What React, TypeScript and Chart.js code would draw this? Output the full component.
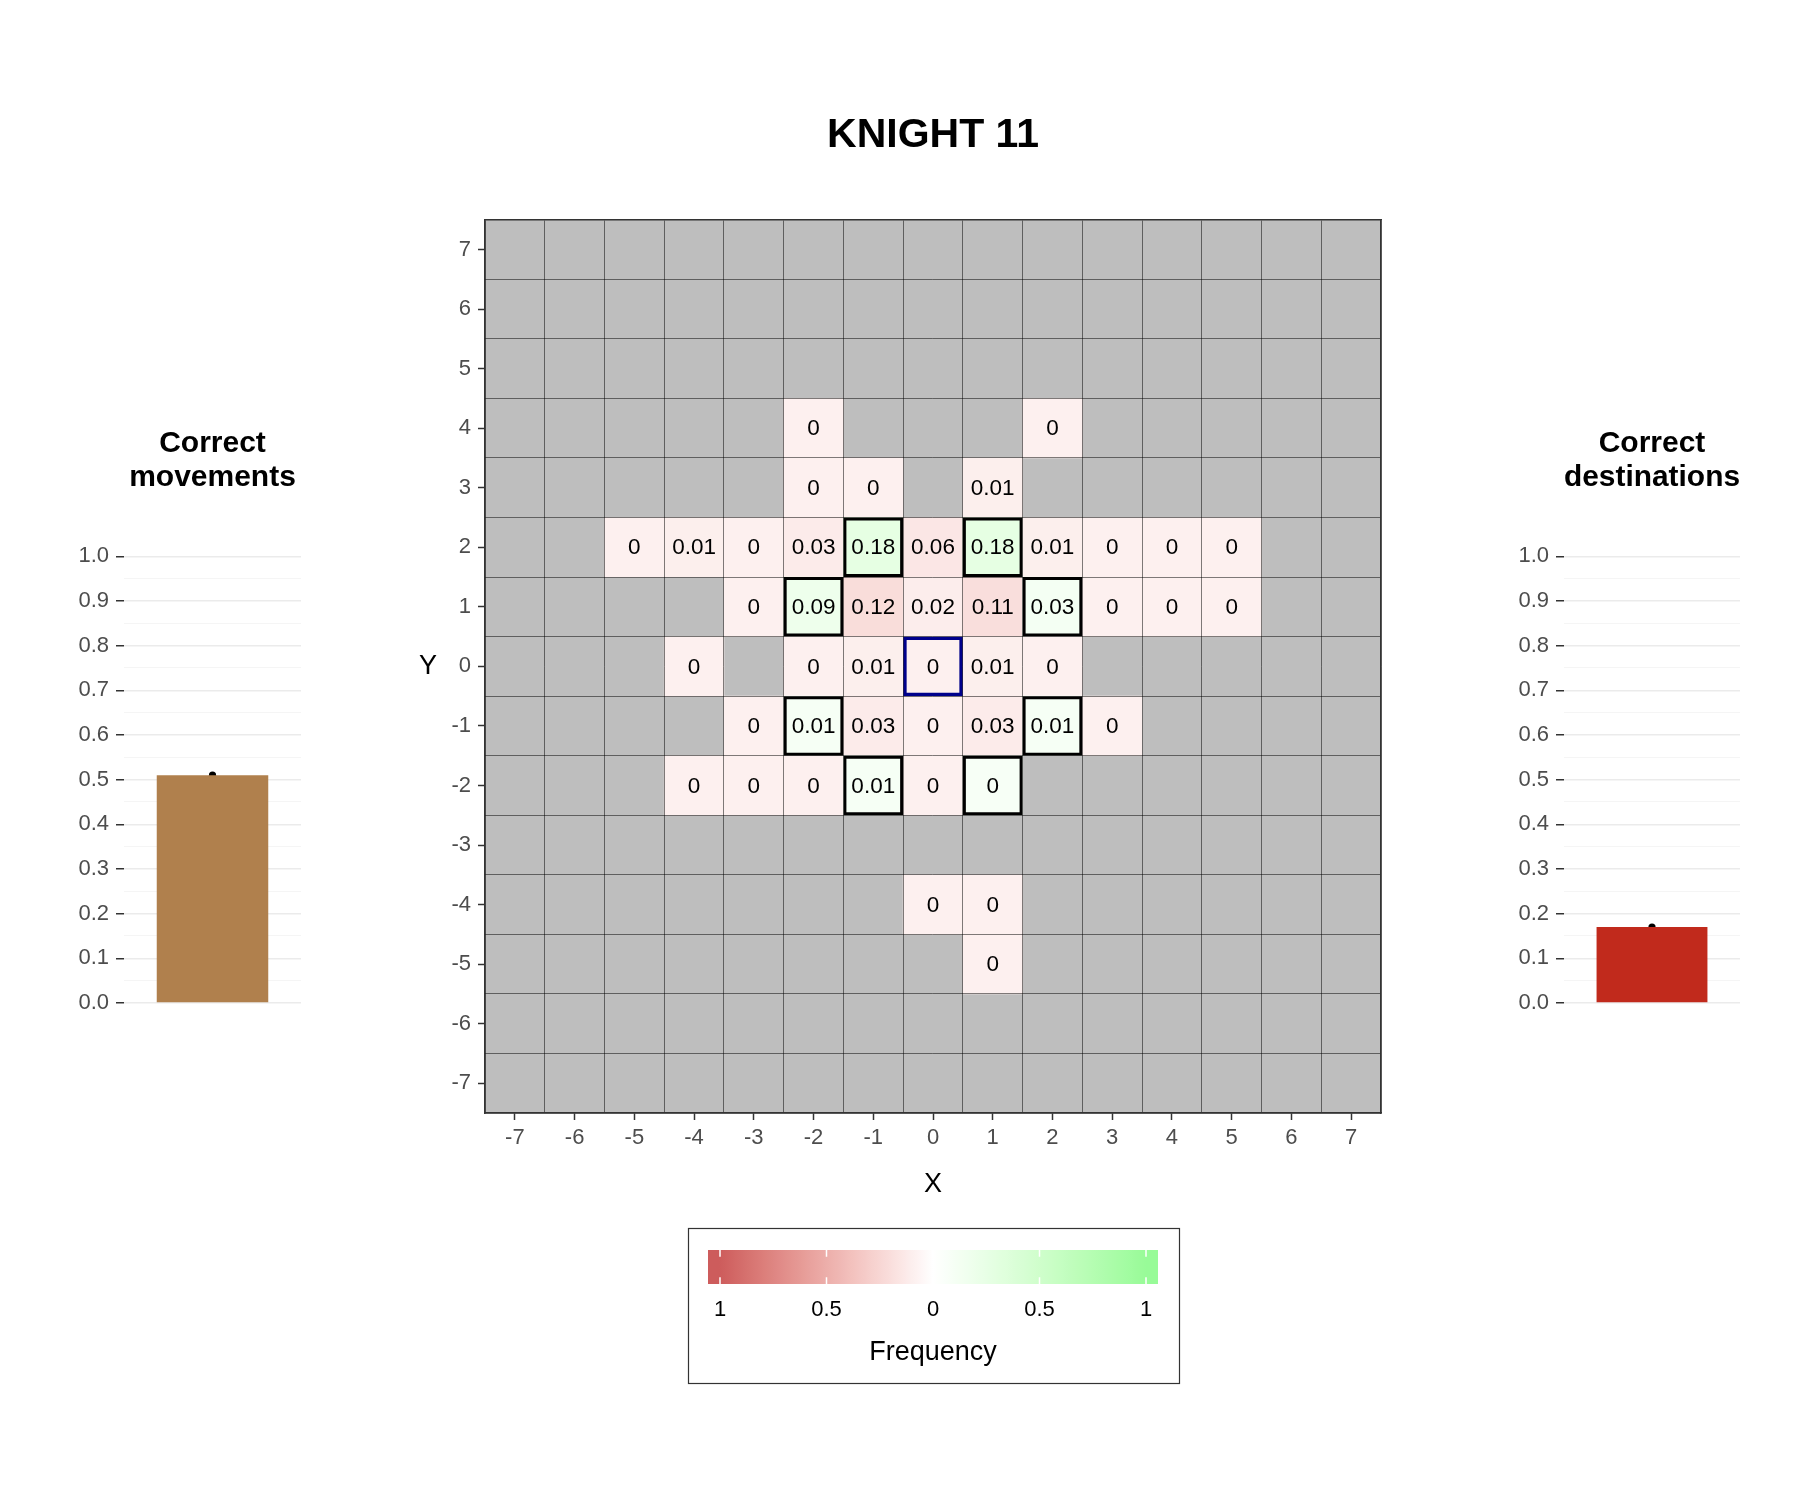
import React, { useEffect, useRef } from 'react';
import { Chart, registerables } from 'chart.js';

Chart.register(...registerables);

// ---------------- data ----------------
const axisTicks = [-7, -6, -5, -4, -3, -2, -1, 0, 1, 2, 3, 4, 5, 6, 7];

// observed tiles (x, y, frequency)
const cellX = [
  -2, 2,
  -2, -1, 1,
  -5, -4, -3, -2, -1, 0, 1, 2, 3, 4, 5,
  -3, -2, -1, 0, 1, 2, 3, 4, 5,
  -4, -2, -1, 0, 1, 2,
  -3, -2, -1, 0, 1, 2, 3,
  -4, -3, -2, -1, 0, 1,
  0, 1,
  1,
];
const cellY = [
  4, 4,
  3, 3, 3,
  2, 2, 2, 2, 2, 2, 2, 2, 2, 2, 2,
  1, 1, 1, 1, 1, 1, 1, 1, 1,
  0, 0, 0, 0, 0, 0,
  -1, -1, -1, -1, -1, -1, -1,
  -2, -2, -2, -2, -2, -2,
  -4, -4,
  -5,
];
const cellFreq = [
  0, 0,
  0, 0, 0.01,
  0, 0.01, 0, 0.03, 0.18, 0.06, 0.18, 0.01, 0, 0, 0,
  0, 0.09, 0.12, 0.02, 0.11, 0.03, 0, 0, 0,
  0, 0, 0.01, 0, 0.01, 0,
  0, 0.01, 0.03, 0, 0.03, 0.01, 0,
  0, 0, 0, 0.01, 0, 0,
  0, 0,
  0,
];

// legal knight moves and the start square
const correctX = [-1, 1, -2, 2, -2, 2, -1, 1];
const correctY = [2, 2, 1, 1, -1, -1, -2, -2];
const startX = [0];
const startY = [0];

// side summaries
const movementsValue = [0.51];
const destinationsValue = [0.17];
const shareTicks = [0, 0.1, 0.2, 0.3, 0.4, 0.5, 0.6, 0.7, 0.8, 0.9, 1.0];

// colour bar
const legendTicks = [-1, -0.5, 0, 0.5, 1];
const legendLabels = ['1', '0.5', '0', '0.5', '1'];

// ---------------- colours ----------------
type RGB = [number, number, number];
const WHITE: RGB = [255, 255, 255];
const WRONG_END: RGB = [205, 92, 92]; // indianred
const RIGHT_END: RGB = [152, 251, 152]; // palegreen
const fillFloor = 0.09; // every visited tile is tinted at least this much

const FONT = '"Liberation Sans", Arial, Helvetica, sans-serif';
Chart.defaults.font.family = FONT;

const toLinear = (c: number) => {
  const s = c / 255;
  return s <= 0.04045 ? s / 12.92 : Math.pow((s + 0.055) / 1.055, 2.4);
};
const toSrgb = (c: number) => {
  const s = c <= 0.0031308 ? 12.92 * c : 1.055 * Math.pow(Math.max(c, 0), 1 / 2.4) - 0.055;
  return Math.round(Math.min(1, Math.max(0, s)) * 255);
};
const labF = (t: number) => (t > 216 / 24389 ? Math.cbrt(t) : ((24389 / 27) * t + 16) / 116);
const labFinv = (f: number) => {
  const f3 = f * f * f;
  return f3 > 216 / 24389 ? f3 : (116 * f - 16) / (24389 / 27);
};
function rgbToLab([r, g, b]: RGB): number[] {
  const R = toLinear(r), G = toLinear(g), B = toLinear(b);
  const X = (0.4124564 * R + 0.3575761 * G + 0.1804375 * B) / 0.95047;
  const Y = 0.2126729 * R + 0.7151522 * G + 0.072175 * B;
  const Z = (0.0193339 * R + 0.119192 * G + 0.9503041 * B) / 1.08883;
  const fx = labF(X), fy = labF(Y), fz = labF(Z);
  return [116 * fy - 16, 500 * (fx - fy), 200 * (fy - fz)];
}
function labToRgb([L, a, b]: number[]): string {
  const fy = (L + 16) / 116, fx = fy + a / 500, fz = fy - b / 200;
  const X = labFinv(fx) * 0.95047, Y = labFinv(fy), Z = labFinv(fz) * 1.08883;
  const R = 3.2404542 * X - 1.5371385 * Y - 0.4985314 * Z;
  const G = -0.969266 * X + 1.8760108 * Y + 0.041556 * Z;
  const B = 0.0556434 * X - 0.2040259 * Y + 1.0572252 * Z;
  return `rgb(${toSrgb(R)}, ${toSrgb(G)}, ${toSrgb(B)})`;
}
function mixLab(a: RGB, b: RGB, t: number): string {
  const la = rgbToLab(a), lb = rgbToLab(b);
  return labToRgb(la.map((v, i) => v + (lb[i] - v) * t));
}

// ---------------- plugins ----------------
const tileText = {
  id: 'tileText',
  afterDatasetsDraw(chart: any) {
    const { ctx, scales } = chart;
    ctx.save();
    ctx.font = `22.5px ${FONT}`;
    ctx.fillStyle = '#000';
    ctx.textAlign = 'center';
    ctx.textBaseline = 'middle';
    cellX.forEach((cx, i) => {
      ctx.fillText(String(cellFreq[i]), scales.x.getPixelForValue(cx), scales.y.getPixelForValue(cellY[i]) + 1);
    });
    ctx.restore();
  },
};

const frequencyLegend = {
  id: 'frequencyLegend',
  afterDraw(chart: any) {
    const { ctx, chartArea: ca } = chart;
    const cx = (ca.left + ca.right) / 2;
    ctx.save();
    // upright Y axis title
    ctx.font = `27px ${FONT}`;
    ctx.fillStyle = '#000';
    ctx.textAlign = 'center';
    ctx.textBaseline = 'middle';
    ctx.fillText('Y', ca.left - 57, (ca.top + ca.bottom) / 2);

    // legend frame
    const boxW = 491, boxH = 155;
    const boxTop = ca.bottom + 115;
    ctx.strokeStyle = '#333333';
    ctx.lineWidth = 1.2;
    ctx.strokeRect(Math.round(cx - boxW / 2) + 0.5, Math.round(boxTop) + 0.5, boxW, boxH);

    // colour bar
    const barW = 450, barH = 34, unit = 213;
    const barL = cx - barW / 2;
    const barT = ca.bottom + 137;
    const grad = ctx.createLinearGradient(barL, 0, barL + barW, 0);
    for (let k = 0; k <= 80; k++) {
      const p = k / 80;
      const v = (p * barW - barW / 2) / unit;
      grad.addColorStop(p, mixLab(WHITE, v < 0 ? WRONG_END : RIGHT_END, Math.min(1, Math.abs(v))));
    }
    ctx.fillStyle = grad;
    ctx.fillRect(barL, barT, barW, barH);

    ctx.strokeStyle = '#ffffff';
    ctx.lineWidth = 1.5;
    legendTicks.forEach((v) => {
      const px = cx + v * unit;
      ctx.beginPath();
      ctx.moveTo(px, barT);
      ctx.lineTo(px, barT + barH / 5);
      ctx.moveTo(px, barT + (barH * 4) / 5);
      ctx.lineTo(px, barT + barH);
      ctx.stroke();
    });

    ctx.fillStyle = '#000';
    ctx.font = `22px ${FONT}`;
    legendTicks.forEach((v, i) => ctx.fillText(legendLabels[i], cx + v * unit, ca.bottom + 197));
    ctx.font = `27px ${FONT}`;
    ctx.fillText('Frequency', cx, ca.bottom + 240);
    ctx.restore();
  },
};

// ---------------- heatmap ----------------
function Heatmap() {
  const ref = useRef<HTMLCanvasElement>(null);
  useEffect(() => {
    const isCorrect = (x: number, y: number) => correctX.some((cx, i) => cx === x && correctY[i] === y);
    const tile = (x: number, y: number) => ({ x, y: [y - 0.5, y + 0.5] });
    const tileEdges = [...axisTicks.map((t) => t - 0.5), axisTicks[axisTicks.length - 1] + 0.5];

    const greyData: any[] = [];
    axisTicks.forEach((y) => axisTicks.forEach((x) => greyData.push(tile(x, y))));
    const freqData = cellX.map((x, i) => ({ ...tile(x, cellY[i]), v: cellFreq[i], ok: isCorrect(x, cellY[i]) }));
    const correctData = correctX.map((x, i) => tile(x, correctY[i]));
    const startData = startX.map((x, i) => tile(x, startY[i]));

    const base = { type: 'bar', grouped: false, categoryPercentage: 1, barPercentage: 1, borderSkipped: false };
    const lo = axisTicks[0] - 0.5;
    const hi = axisTicks[axisTicks.length - 1] + 0.5;

    const chart = new Chart(ref.current as HTMLCanvasElement, {
      type: 'bar',
      data: {
        datasets: [
          { ...base, label: 'not visited', data: greyData, backgroundColor: '#BEBEBE', borderWidth: 0, order: 4 },
          {
            ...base,
            label: 'Frequency',
            data: freqData,
            backgroundColor: (c: any) =>
              c.raw ? mixLab(WHITE, c.raw.ok ? RIGHT_END : WRONG_END, Math.min(1, c.raw.v + fillFloor)) : '#fff',
            borderWidth: 0,
            order: 3,
          },
          { ...base, label: 'Correct', data: correctData, backgroundColor: 'rgba(0,0,0,0)', borderColor: '#000000', borderWidth: 3, inflateAmount: 0, order: 2 },
          { ...base, label: 'Start', data: startData, backgroundColor: 'rgba(0,0,0,0)', borderColor: '#00008B', borderWidth: 3.5, inflateAmount: 0, order: 1 },
        ] as any,
      },
      options: {
        animation: false,
        responsive: false,
        events: [],
        layout: { padding: { left: 0, right: 99, top: 0, bottom: 217 } },
        plugins: {
          legend: { display: false },
          tooltip: { enabled: false },
          title: {
            display: true,
            text: 'KNIGHT 11',
            fullSize: false,
            color: '#000',
            font: { size: 41, weight: 'bold' },
            padding: { top: 71.5, bottom: 59 },
          },
        },
        scales: {
          x: {
            type: 'linear',
            position: 'bottom',
            offset: false,
            min: lo,
            max: hi,
            afterBuildTicks: (a: any) => { a.ticks = axisTicks.map((value) => ({ value })); },
            afterFit: (a: any) => { a.height = 110; },
            grid: { offset: false, drawOnChartArea: false, drawTicks: true, tickLength: 7, tickColor: '#333333', tickWidth: 1.5 },
            border: { display: true, color: '#333333', width: 1.5, z: 2 },
            ticks: { autoSkip: false, maxRotation: 0, padding: 5, color: '#4D4D4D', font: { size: 22 } },
            title: { display: true, text: 'X', color: '#000', font: { size: 27 }, padding: { top: 0, bottom: 22 } },
          },
          y: {
            type: 'linear',
            position: 'left',
            offset: false,
            min: lo,
            max: hi,
            afterBuildTicks: (a: any) => { a.ticks = axisTicks.map((value) => ({ value })); },
            afterFit: (a: any) => { a.width = 145; },
            grid: { offset: false, drawOnChartArea: false, drawTicks: true, tickLength: 7, tickColor: '#333333', tickWidth: 1.5 },
            border: { display: true, color: '#333333', width: 1.5, z: 2 },
            ticks: { autoSkip: false, padding: 7, color: '#4D4D4D', font: { size: 22 } },
          },
          xEdges: {
            type: 'linear',
            position: 'top',
            offset: false,
            min: lo,
            max: hi,
            afterBuildTicks: (a: any) => { a.ticks = tileEdges.map((value) => ({ value })); },
            afterFit: (a: any) => { a.height = 0; },
            ticks: { display: false },
            grid: { offset: false, drawTicks: false, color: 'rgba(0,0,0,0.5)', lineWidth: 1, z: 1 },
            border: { display: true, color: '#333333', width: 1.5, z: 2 },
          },
          yEdges: {
            type: 'linear',
            position: 'right',
            offset: false,
            min: lo,
            max: hi,
            afterBuildTicks: (a: any) => { a.ticks = tileEdges.map((value) => ({ value })); },
            afterFit: (a: any) => { a.width = 0; },
            ticks: { display: false },
            grid: { offset: false, drawTicks: false, color: 'rgba(0,0,0,0.5)', lineWidth: 1, z: 1 },
            border: { display: true, color: '#333333', width: 1.5, z: 2 },
          },
        } as any,
      },
      plugins: [tileText, frequencyLegend],
    } as any);
    return () => chart.destroy();
  }, []);
  return <canvas ref={ref} width={1140} height={1400} style={{ position: 'absolute', left: 340, top: 40 }} />;
}

// ---------------- side bars ----------------
function ShareBar(props: { title: string[]; values: number[]; color: string; left: number; width: number; axisWidth: number; padRight: number }) {
  const ref = useRef<HTMLCanvasElement>(null);
  useEffect(() => {
    const gridTicks: any[] = [];
    shareTicks.forEach((v, i) => {
      if (i > 0) gridTicks.push({ value: (v + shareTicks[i - 1]) / 2, major: false });
      gridTicks.push({ value: v, major: true });
    });
    const chart = new Chart(ref.current as HTMLCanvasElement, {
      type: 'bar',
      data: {
        labels: [''],
        datasets: [
          { type: 'bar', data: props.values, backgroundColor: props.color, barPercentage: 0.63, categoryPercentage: 1, order: 0 },
          { type: 'line', data: props.values, showLine: false, pointRadius: 3.6, pointBackgroundColor: '#000', pointBorderColor: '#000', pointBorderWidth: 0, order: 1 },
        ] as any,
      },
      options: {
        animation: false,
        responsive: false,
        events: [],
        layout: { padding: { left: 0, right: props.padRight, top: 0, bottom: 38 } },
        plugins: {
          legend: { display: false },
          tooltip: { enabled: false },
          title: {
            display: true,
            text: props.title,
            fullSize: false,
            color: '#000',
            font: { size: 30, weight: 'bold', lineHeight: 1.13 },
            padding: { top: 46.5, bottom: 62 },
          },
        },
        scales: {
          x: { display: false },
          y: {
            min: 0,
            max: 1,
            afterBuildTicks: (a: any) => { a.ticks = gridTicks.map((t) => ({ ...t })); },
            afterFit: (a: any) => { a.width = props.axisWidth; },
            grid: {
              color: (c: any) => (c.tick && c.tick.major ? '#EBEBEB' : '#F3F3F3'),
              lineWidth: (c: any) => (c.tick && c.tick.major ? 1.5 : 0.8),
              tickColor: (c: any) => (c.tick && c.tick.major ? '#333333' : 'rgba(0,0,0,0)'),
              tickLength: 8,
              tickWidth: 1.5,
            },
            border: { display: false },
            ticks: {
              autoSkip: false,
              padding: 7,
              color: '#4D4D4D',
              font: { size: 22 },
              callback: (v: any, i: number, ticks: any[]) => (ticks[i] && ticks[i].major ? Number(v).toFixed(1) : ''),
            },
          },
        } as any,
      },
    } as any);
    return () => chart.destroy();
  }, []);
  return <canvas ref={ref} width={props.width} height={661} style={{ position: 'absolute', left: props.left, top: 380 }} />;
}

export default function App() {
  return (
    <div style={{ position: 'absolute', left: 0, top: 0, width: 1800, height: 1500, background: '#ffffff' }}>
      <ShareBar title={['Correct', 'movements']} values={movementsValue} color="#B0804D" left={0} width={340} axisWidth={124} padRight={39} />
      <Heatmap />
      <ShareBar title={['Correct', 'destinations']} values={destinationsValue} color="#C12A1C" left={1480} width={320} axisWidth={84} padRight={60} />
    </div>
  );
}
